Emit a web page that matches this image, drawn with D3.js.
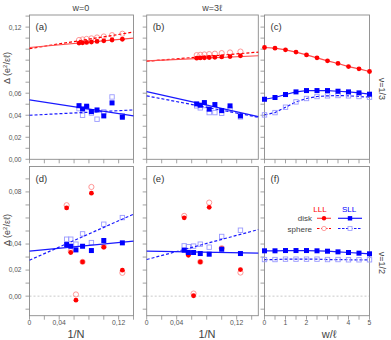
<!DOCTYPE html>
<html>
<head>
<meta charset="utf-8">
<script src="https://cdn.jsdelivr.net/npm/d3@7"></script>
<style>
  body { margin: 0; background: #fff; }
  svg { display: block; font-family: "Liberation Sans", Arial, sans-serif; }
</style>
</head>
<body>
<div class="graphic"></div>
<script>
// system sizes
var N13 = [15, 14, 13, 12, 11, 10, 9, 8];
var N12 = [20, 18, 16, 14, 12, 10, 8];
var wVals = [0, 0.5, 1, 1.5, 2, 2.5, 3, 3.5, 4, 4.5, 5];

// (a) nu=1/3, w=0
var aRedDisk = [0.1055, 0.1058, 0.1061, 0.1065, 0.1070, 0.1076, 0.1083, 0.1090];
var aRedSphere = [0.1083, 0.1088, 0.1093, 0.1098, 0.1106, 0.1115, 0.1127, 0.1140];
var aBlueDisk = [0.0487, 0.0457, 0.0482, 0.0433, 0.0448, 0.0394, 0.0512, 0.0382];
var aBlueSphere = [0.0460, 0.0400, 0.0470, 0.0420, 0.0364, 0.0430, 0.0566, 0.0395];
var aFitRedDisk = [[0, 0.1015], [0.14, 0.1100]];
var aFitRedSphere = [[0, 0.1005], [0.14, 0.1155]];
var aFitBlueDisk = [[0, 0.0539], [0.14, 0.0394]];
var aFitBlueSphere = [[0, 0.0400], [0.14, 0.0448]];

// (b) nu=1/3, w=3l
var bRedDisk = [0.0918, 0.0920, 0.0922, 0.0924, 0.0926, 0.0929, 0.0933, 0.0939];
var bRedSphere = [0.0946, 0.0949, 0.0952, 0.0955, 0.0959, 0.0964, 0.0970, 0.0978];
var bBlueDisk = [0.0503, 0.0491, 0.0515, 0.0455, 0.0497, 0.0442, 0.0485, 0.0394];
var bBlueSphere = [0.0485, 0.0467, 0.0488, 0.0424, 0.0424, 0.0418, 0.0455, 0.0385];
var bFitRedDisk = [[0, 0.0894], [0.1488, 0.0940]];
var bFitRedSphere = [[0, 0.0890], [0.1488, 0.0973]];
var bFitBlueDisk = [[0, 0.0615], [0.1488, 0.0388]];
var bFitBlueSphere = [[0, 0.0576], [0.1488, 0.0382]];

// (c) nu=1/3 vs w
var cRedDisk = [0.1015, 0.1009, 0.0994, 0.0973, 0.0948, 0.0921, 0.0894, 0.0870, 0.0842, 0.0821, 0.0797];
var cBlueDisk = [0.0545, 0.0561, 0.0588, 0.0612, 0.0624, 0.0624, 0.0624, 0.0618, 0.0612, 0.0603, 0.0591];
var cBlueSphere = [0.0403, 0.0424, 0.0473, 0.0521, 0.0552, 0.0570, 0.0576, 0.0579, 0.0576, 0.0570, 0.0564];

// (d) nu=1/2, w=0
var dRedDisk = [0.0677, 0.0335, -0.0031, 0.0263, 0.0790, 0.0376, 0.0199];
var dRedSphere = [0.0698, 0.0345, 0.0013, 0.0263, 0.0838, 0.0380, 0.0179];
var dBlueDisk = [0.0396, 0.0383, 0.0355, 0.0383, 0.0350, 0.0427, 0.0409];
var dBlueSphere = [0.0437, 0.0437, 0.0399, 0.0478, 0.0411, 0.0552, 0.0603];
var dFitBlueDisk = [[0, 0.0345], [0.14, 0.0422]];
var dFitBlueSphere = [[0, 0.0276], [0.14, 0.0629]];

// (e) nu=1/2, w=3l
var eRedDisk = [0.0601, 0.0314, 0.0003, 0.0263, 0.0682, 0.0365, 0.0204];
var eRedSphere = [0.0616, 0.0330, 0.0020, 0.0263, 0.0718, 0.0368, 0.0181];
var eBlueDisk = [0.0353, 0.0335, 0.0335, 0.0327, 0.0322, 0.0360, 0.0327];
var eBlueSphere = [0.0386, 0.0380, 0.0384, 0.0399, 0.0376, 0.0458, 0.0506];
var eFitBlueDisk = [[0, 0.0345], [0.1488, 0.0330]];
var eFitBlueSphere = [[0, 0.0281], [0.1488, 0.0511]];

// (f) nu=1/2 vs w
var fBlueDisk = [0.0348, 0.0348, 0.0350, 0.0350, 0.0350, 0.0348, 0.0345, 0.0340, 0.0335, 0.0330, 0.0325];
var fBlueSphere = [0.0281, 0.0281, 0.0284, 0.0284, 0.0284, 0.0284, 0.0281, 0.0281, 0.0279, 0.0279, 0.0279];

var topTicks = [0, 0.02, 0.04, 0.06, 0.12];
var botTicks = [0, 0.02, 0.04, 0.08];
var nTicks = [0, 0.04, 0.12];
var wTicks = [0, 1, 2, 4, 5];

var RED = "#ff0000", RED_LIGHT = "#ff4a4a", RED_OPEN = "#ff8c8c";
var BLUE = "#0000ff", BLUE_LINE = "#1a1aff", BLUE_OPEN = "#9a9aff";

var svg = d3.select(".graphic").append("svg").attr("width", 391).attr("height", 340);

var yTop = d3.scaleLinear().domain([0, 0.131]).range([159.3, 15]);
var yBot = d3.scaleLinear().domain([-0.015, 0.0995]).range([315.7, 166.5]);

var xA = d3.scaleLinear().domain([0, 0.14]).range([29.5, 133.5]);
var xB = d3.scaleLinear().domain([0, 0.1488]).range([146.7, 258.3]);
var xC = d3.scaleLinear().domain([0, 5]).range([264.5, 369.5]);

var comma = function(v) { return v === 0 ? "0" : d3.format(".2f")(v).replace(".", ","); };
var commaY = function(v) { return d3.format(".2f")(v).replace(".", ","); };

function frame(x, y, labelX, letter, xTickVals, xLabelVals, yLabelVals, zeroLine) {
  var g = svg.append("g");
  var x0 = x.range()[0], x1 = x.range()[1], y0 = y.range()[0], y1 = y.range()[1];
  if (zeroLine) {
    g.append("line").attr("x1", x0).attr("x2", x1).attr("y1", y(0)).attr("y2", y(0))
      .attr("stroke", "#bbb").attr("stroke-width", 0.8).attr("stroke-dasharray", "2,2");
  }
  g.append("rect").attr("x", x0).attr("y", y1).attr("width", x1 - x0).attr("height", y0 - y1)
    .attr("fill", "none").attr("stroke", "#8a8a8a").attr("stroke-width", 0.9);
  // y ticks every 0.01
  var yt = d3.range(Math.ceil(y.domain()[0] * 100 - 1e-6), Math.floor(y.domain()[1] * 100 + 1e-6) + 1).map(function(d) { return d / 100; });
  g.selectAll(".yt").data(yt).enter().append("line")
    .attr("x1", x0 - 4).attr("x2", x0).attr("y1", function(d) { return y(d); }).attr("y2", function(d) { return y(d); })
    .attr("stroke", "#8a8a8a").attr("stroke-width", 0.8);
  g.selectAll(".xt").data(xTickVals).enter().append("line")
    .attr("y1", y0).attr("y2", y0 + 4).attr("x1", function(d) { return x(d); }).attr("x2", function(d) { return x(d); })
    .attr("stroke", "#8a8a8a").attr("stroke-width", 0.8);
  if (yLabelVals) {
    g.selectAll(".yl").data(yLabelVals).enter().append("text")
      .attr("x", x0 - 8).attr("y", function(d) { return y(d) + 2.4; })
      .attr("text-anchor", "end").attr("font-size", 6.6).attr("fill", "#555")
      .text(commaY);
  }
  if (xLabelVals) {
    g.selectAll(".xl").data(xLabelVals).enter().append("text")
      .attr("x", function(d) { return x(d); }).attr("y", y0 + 9.5)
      .attr("text-anchor", "middle").attr("font-size", 6.8).attr("fill", "#555")
      .text(labelX);
  }
  g.append("text").attr("x", x0 + 6).attr("y", y1 + 15).attr("font-size", 9.5).attr("fill", "#333").text(letter);
}

function fitLine(x, y, pts, color, dashed) {
  svg.append("path").datum(pts)
    .attr("d", d3.line().x(function(d) { return x(d[0]); }).y(function(d) { return y(d[1]); }))
    .attr("fill", "none").attr("stroke", color).attr("stroke-width", 1.2)
    .attr("stroke-dasharray", dashed ? "3,2" : null);
}

function curve(x, y, xs, ys, color, dashed) {
  svg.append("path").datum(ys)
    .attr("d", d3.line().x(function(d, i) { return x(xs[i]); }).y(function(d) { return y(d); }))
    .attr("fill", "none").attr("stroke", color).attr("stroke-width", 1.2)
    .attr("stroke-dasharray", dashed ? "3,2" : null);
}

function circles(x, y, xs, ys, open) {
  svg.append("g").selectAll("circle").data(ys).enter().append("circle")
    .attr("cx", function(d, i) { return x(xs[i]); }).attr("cy", function(d) { return y(d); })
    .attr("r", open ? 2.6 : 2.4)
    .attr("fill", open ? "none" : RED).attr("stroke", open ? RED_OPEN : "none").attr("stroke-width", 0.9);
}

function squares(x, y, xs, ys, open) {
  var s = open ? 4.4 : 5;
  svg.append("g").selectAll("rect").data(ys).enter().append("rect")
    .attr("x", function(d, i) { return x(xs[i]) - s / 2; }).attr("y", function(d) { return y(d) - s / 2; })
    .attr("width", s).attr("height", s)
    .attr("fill", open ? "none" : BLUE).attr("stroke", open ? BLUE_OPEN : "none").attr("stroke-width", 0.9);
}

var inv13 = N13.map(function(n) { return 1 / n; });
var inv12 = N12.map(function(n) { return 1 / n; });
var nTickVals = [0, 0.02, 0.04, 0.06, 0.08, 0.1, 0.12, 0.14];
var wTickVals = [0, 0.5, 1, 1.5, 2, 2.5, 3, 3.5, 4, 4.5, 5];

// frames
frame(xA, yTop, comma, "(a)", nTickVals, null, topTicks, false);
frame(xB, yTop, comma, "(b)", nTickVals, null, null, false);
frame(xC, yTop, String, "(c)", wTickVals, null, null, false);
frame(xA, yBot, comma, "(d)", nTickVals, nTicks, botTicks, true);
frame(xB, yBot, comma, "(e)", nTickVals, nTicks, null, true);
frame(xC, yBot, String, "(f)", wTickVals, wTicks, null, true);

// (a)
squares(xA, yTop, inv13, aBlueSphere, true);
circles(xA, yTop, inv13, aRedSphere, true);
fitLine(xA, yTop, aFitRedSphere, RED, true);
fitLine(xA, yTop, aFitRedDisk, RED_LIGHT, false);
fitLine(xA, yTop, aFitBlueSphere, BLUE_LINE, true);
fitLine(xA, yTop, aFitBlueDisk, BLUE_LINE, false);
circles(xA, yTop, inv13, aRedDisk, false);
squares(xA, yTop, inv13, aBlueDisk, false);

// (b)
squares(xB, yTop, inv13, bBlueSphere, true);
circles(xB, yTop, inv13, bRedSphere, true);
fitLine(xB, yTop, bFitRedSphere, RED, true);
fitLine(xB, yTop, bFitRedDisk, RED_LIGHT, false);
fitLine(xB, yTop, bFitBlueSphere, BLUE_LINE, true);
fitLine(xB, yTop, bFitBlueDisk, BLUE_LINE, false);
circles(xB, yTop, inv13, bRedDisk, false);
squares(xB, yTop, inv13, bBlueDisk, false);

// (c)
curve(xC, yTop, wVals, cBlueSphere, BLUE_LINE, true);
squares(xC, yTop, wVals, cBlueSphere, true);
curve(xC, yTop, wVals, cRedDisk, RED_LIGHT, false);
circles(xC, yTop, wVals, cRedDisk, false);
curve(xC, yTop, wVals, cBlueDisk, BLUE_LINE, false);
squares(xC, yTop, wVals, cBlueDisk, false);

// (d)
squares(xA, yBot, inv12, dBlueSphere, true);
circles(xA, yBot, inv12, dRedSphere, true);
fitLine(xA, yBot, dFitBlueSphere, BLUE_LINE, true);
fitLine(xA, yBot, dFitBlueDisk, BLUE_LINE, false);
circles(xA, yBot, inv12, dRedDisk, false);
squares(xA, yBot, inv12, dBlueDisk, false);

// (e)
squares(xB, yBot, inv12, eBlueSphere, true);
circles(xB, yBot, inv12, eRedSphere, true);
fitLine(xB, yBot, eFitBlueSphere, BLUE_LINE, true);
fitLine(xB, yBot, eFitBlueDisk, BLUE_LINE, false);
circles(xB, yBot, inv12, eRedDisk, false);
squares(xB, yBot, inv12, eBlueDisk, false);

// (f)
curve(xC, yBot, wVals, fBlueSphere, BLUE_LINE, true);
squares(xC, yBot, wVals, fBlueSphere, true);
curve(xC, yBot, wVals, fBlueDisk, BLUE_LINE, false);
squares(xC, yBot, wVals, fBlueDisk, false);

// legend in (f)
var lg = svg.append("g").attr("font-size", 8);
lg.append("text").attr("x", 320).attr("y", 212).attr("text-anchor", "middle").attr("fill", RED).text("LLL");
lg.append("text").attr("x", 349).attr("y", 212).attr("text-anchor", "middle").attr("fill", BLUE).text("SLL");
lg.append("text").attr("x", 312).attr("y", 221).attr("text-anchor", "end").attr("fill", "#444").text("disk");
lg.append("text").attr("x", 312).attr("y", 231.5).attr("text-anchor", "end").attr("fill", "#444").text("sphere");
lg.append("line").attr("x1", 317).attr("x2", 331).attr("y1", 218.3).attr("y2", 218.3).attr("stroke", RED_LIGHT).attr("stroke-width", 1.2);
lg.append("circle").attr("cx", 324).attr("cy", 218.3).attr("r", 2.2).attr("fill", RED);
lg.append("line").attr("x1", 338).attr("x2", 362).attr("y1", 218.3).attr("y2", 218.3).attr("stroke", BLUE_LINE).attr("stroke-width", 1.2);
lg.append("rect").attr("x", 347.8).attr("y", 216.1).attr("width", 4.4).attr("height", 4.4).attr("fill", BLUE);
lg.append("line").attr("x1", 317).attr("x2", 331).attr("y1", 228.5).attr("y2", 228.5).attr("stroke", RED).attr("stroke-width", 1).attr("stroke-dasharray", "2.5,1.5");
lg.append("circle").attr("cx", 324).attr("cy", 228.5).attr("r", 2.2).attr("fill", "#fff").attr("stroke", RED_OPEN).attr("stroke-width", 0.8);
lg.append("line").attr("x1", 338).attr("x2", 362).attr("y1", 228.5).attr("y2", 228.5).attr("stroke", BLUE_LINE).attr("stroke-width", 1).attr("stroke-dasharray", "2.5,1.5");
lg.append("rect").attr("x", 348).attr("y", 226.5).attr("width", 4).attr("height", 4).attr("fill", "#fff").attr("stroke", BLUE_OPEN).attr("stroke-width", 0.8);

// titles
svg.append("text").attr("x", 81).attr("y", 11).attr("text-anchor", "middle").attr("font-size", 9).attr("fill", "#444").text("w=0");
svg.append("text").attr("x", 212).attr("y", 11).attr("text-anchor", "middle").attr("font-size", 9).attr("fill", "#444").text("w=3ℓ");
svg.append("text").attr("x", 76).attr("y", 337.5).attr("text-anchor", "middle").attr("font-size", 11).attr("fill", "#444").text("1/N");
svg.append("text").attr("x", 207).attr("y", 337.5).attr("text-anchor", "middle").attr("font-size", 11).attr("fill", "#444").text("1/N");
svg.append("text").attr("x", 329).attr("y", 337.5).attr("text-anchor", "middle").attr("font-size", 11).attr("fill", "#444").text("w/ℓ");

// y titles
[68, 230].forEach(function(cy) {
  svg.append("text").attr("transform", "translate(10," + cy + ") rotate(-90)")
    .attr("text-anchor", "middle").attr("font-size", 9).attr("fill", "#444")
    .html('Δ (e<tspan font-size="6" dy="-3">2</tspan><tspan dy="3">/εℓ)</tspan>');
});

// filling labels
[["ν=1/3", 89], ["ν=1/2", 263]].forEach(function(d) {
  svg.append("text").attr("transform", "translate(379," + d[1] + ") rotate(90)")
    .attr("text-anchor", "middle").attr("font-size", 9).attr("fill", "#444").text(d[0]);
});
</script>
</body>
</html>
